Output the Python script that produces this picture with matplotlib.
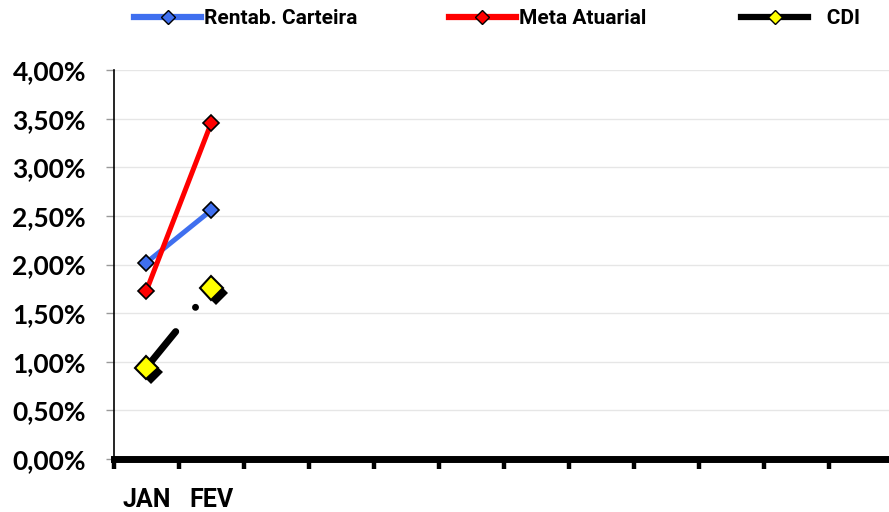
import numpy as np
import matplotlib
matplotlib.use('Agg')
import matplotlib.pyplot as plt
import matplotlib.patheffects as pe
from matplotlib.lines import Line2D
from matplotlib.ticker import FuncFormatter, FixedLocator

meses = ['JAN', 'FEV', 'MAR', 'ABR', 'MAI', 'JUN', 'JUL', 'AGO', 'SET', 'OUT', 'NOV', 'DEZ']
rotulos = ['JAN', 'FEV', '', '', '', '', '', '', '', '', '', '']
rentab = [2.02, 2.56]
meta = [1.73, 3.46]
cdi = [0.94, 1.76]

azul = '#3F6FEF'
verm = '#FF0000'

fig = plt.figure(figsize=(8.89, 5.12), dpi=100)
ax = fig.add_axes([0.128, 0.1035, 0.878, 0.7595])

x = np.arange(len(meses))
ax.plot(x[:len(rentab)], rentab, color=azul, lw=3.6, marker='D', ms=8,
        mfc=azul, mec='black', mew=1.2, zorder=3)
ax.plot(x[:len(meta)], meta, color=verm, lw=3.6, marker='D', ms=8,
        mfc=verm, mec='black', mew=1.2, zorder=3)
# CDI: linha tracejada grossa
ax.plot(x[:len(cdi)], cdi, color='black', lw=5, ls=(0, (6.7, 4.5, 0.01, 4.5)),
        solid_capstyle='round', dash_capstyle='round', zorder=4)
ax.plot(x[:len(cdi)], cdi, ls='none', marker='D', ms=12, mfc='#FFFF00',
        mec='black', mew=1.5, zorder=5,
        path_effects=[pe.SimplePatchShadow(offset=(3.5, -3.5), shadow_rgbFace='black', alpha=1.0),
                      pe.Normal()])

ax.set_xlim(-0.5, 11.5)
ax.set_ylim(0, 4.0)
ax.set_yticks(np.arange(0, 4.01, 0.5))
ax.yaxis.set_major_formatter(FuncFormatter(lambda v, p: ('%.2f%%' % v).replace('.', ',')))
ax.grid(axis='y', color='#E6E6E6', lw=1)
ax.set_axisbelow(True)

ax.xaxis.set_major_locator(FixedLocator(np.arange(-0.5, 11.0, 1.0)))
ax.xaxis.set_minor_locator(FixedLocator(x))
ax.set_xticklabels([''] * 12)
ax.set_xticklabels(rotulos, minor=True)
ax.tick_params(axis='x', which='major', length=7, width=3.2, color='black', direction='out')
ax.tick_params(axis='x', which='minor', length=0, pad=21)
ax.tick_params(axis='y', length=6, width=1, color='#999999', pad=14)

for lab in ax.get_yticklabels():
    lab.set_fontfamily(['Lato', 'DejaVu Sans'])
    lab.set_fontweight('bold')
    lab.set_fontsize(19)
for lab in ax.get_xticklabels(minor=True):
    lab.set_fontfamily(['Roboto', 'DejaVu Sans'])
    lab.set_fontweight('bold')
    lab.set_fontsize(18)

ax.spines['top'].set_visible(False)
ax.spines['right'].set_visible(False)
ax.spines['left'].set_linewidth(1.2)
ax.spines['bottom'].set_linewidth(5)

fonte = {'family': ['Roboto', 'DejaVu Sans'], 'weight': 'bold', 'size': 15}
entradas = [
    (Line2D([], [], color=azul, lw=4.5, marker='D', ms=7, mfc=azul, mec='black'), 'Rentab. Carteira', 0.151),
    (Line2D([], [], color=verm, lw=4.5, marker='D', ms=7, mfc=verm, mec='black'), 'Meta Atuarial', 0.505),
    (Line2D([], [], color='black', lw=4.5, marker='D', ms=7, mfc='#FFFF00', mec='black'), '   CDI', 0.834),
]
for h, lbl, xp in entradas:
    leg = fig.legend([h], [lbl], loc='center left', bbox_to_anchor=(xp, 0.963),
                     frameon=False, prop=fonte, handlelength=3.2, handletextpad=0.15,
                     borderaxespad=0, borderpad=0)

fig.savefig('out.png', dpi=100)
